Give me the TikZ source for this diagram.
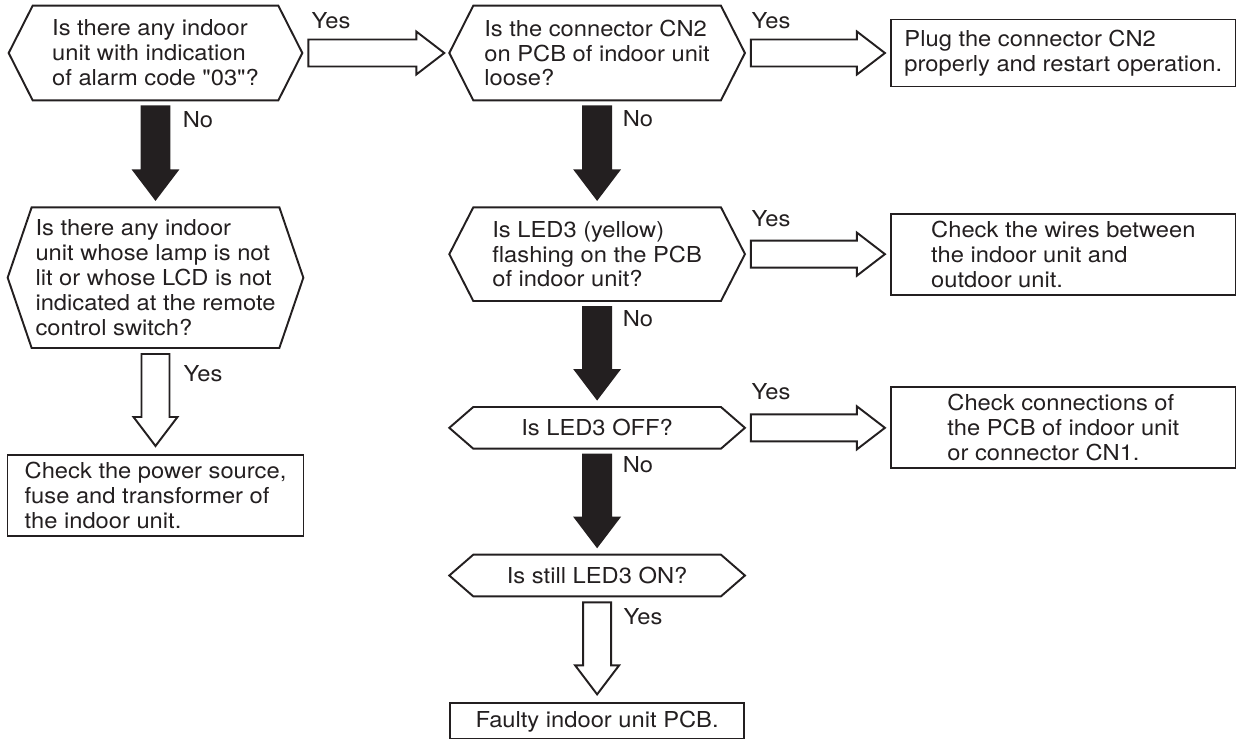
\documentclass[tikz,border=0pt]{standalone}
\usepackage{fontspec}
\setmainfont[FakeStretch=1.08, Ligatures=TeXOff]{TeX Gyre Heros}
\usepackage{tikz}
\usetikzlibrary{positioning,calc}
\definecolor{ink}{HTML}{231F20}

% fat arrows: style, from, to
\newcommand{\vblock}[3]{%
  \draw[#1] ($(#2)+(-14,6)$) -- ($(#3)+(-14,-37)$) -- ($(#3)+(-22,-37)$)
    -- ($(#3)+(0,-8)$) -- ($(#3)+(22,-37)$) -- ($(#3)+(14,-37)$)
    -- ($(#2)+(14,6)$) -- cycle;}
\newcommand{\hblock}[3]{%
  \draw[#1] ($(#2)+(6,-13.5)$) -- ($(#3)+(-33,-13.5)$) -- ($(#3)+(-33,-21.5)$)
    -- ($(#3)+(-5,0)$) -- ($(#3)+(-33,21.5)$) -- ($(#3)+(-33,13.5)$)
    -- ($(#2)+(6,13.5)$) -- cycle;}

\begin{document}
\begin{tikzpicture}[
  x=0.02cm, y=-0.02cm,
  node distance=21.2mm and 33.8mm,
  every node/.style={font=\fontsize{12.5}{14.2}\selectfont, text=ink},
  ask/.style={align=left, inner sep=2pt, minimum width=4.94cm},
  answer/.style={draw=ink, line width=1.1pt, align=left, inner sep=3pt, minimum width=6.9cm},
  edge/.style={draw=ink, line width=1.1pt, line join=miter},
  openarr/.style={draw=ink, fill=white, line width=1.1pt},
  blackarr/.style={draw=ink, fill=ink, line width=1.1pt}
]
\useasboundingbox (0,0) rectangle (1236,738);

\node[ask, minimum width=4.9cm, minimum height=1.88cm] (q1) at (155.5,53) {Is there any indoor\\unit with indication\\of alarm code "03"?};
\node[ask, minimum height=1.88cm, right=39mm of q1] (q2) {Is the connector CN2\\on PCB of indoor unit\\loose?};
\node[answer, minimum height=1.34cm, right=of q2] (b1) {Plug the connector CN2\\properly and restart operation.};
\node[ask, minimum height=1.86cm, below=21.4mm of q2] (q3) {Is LED3 (yellow)\\flashing on the PCB\\of indoor unit?};
\node[answer, minimum height=1.62cm, right=of q3] (b2) {Check the wires between\\the indoor unit and\\outdoor unit.};
\node[ask, minimum height=0.82cm, below=of q3] (q4) {Is LED3 OFF?};
\node[answer, minimum height=1.62cm, right=of q4] (b3) {Check connections of\\the PCB of indoor unit\\or connector CN1.};
\node[ask, minimum height=0.82cm, below=of q4] (q5) {Is still LED3 ON?};
\node[answer, minimum width=5.88cm, minimum height=0.72cm, below=of q5] (b5) {Faulty indoor unit PCB.};
\node[ask, minimum width=4.9cm, minimum height=2.8cm, below=21.4mm of q1] (q6) {Is there any indoor\\unit whose lamp is not\\lit or whose LCD is not\\indicated at the remote\\control switch?};
\node[answer, minimum width=5.92cm, minimum height=1.62cm, below=of q6] (b4) {Check the power source,\\fuse and transformer of\\the indoor unit.};

% hexagon outlines
\foreach \q in {q1,q2,q3,q4,q5,q6}
  \draw[edge] (\q.north west) -- (\q.north east) -- ($(\q.east)+(24,0)$) coordinate (\q-r)
    -- (\q.south east) -- (\q.south west) -- ($(\q.west)+(-24,0)$) coordinate (\q-l) -- cycle;

\hblock{openarr}{q1-r}{q2-l}
\hblock{openarr}{q2-r}{b1.west}
\hblock{openarr}{q3-r}{b2.west}
\hblock{openarr}{q4-r}{b3.west}
\vblock{blackarr}{q1.south}{q6.north}
\vblock{blackarr}{q2.south}{q3.north}
\vblock{blackarr}{q3.south}{q4.north}
\vblock{blackarr}{q4.south}{q5.north}
\vblock{openarr}{q6.south}{b4.north}
\vblock{openarr}{q5.south}{b5.north}

\node (y1) at (331,21) {Yes};
\node (n1) at (198,120) {No};
\node (y2) at (771,21) {Yes};
\node (n2) at (638,119) {No};
\node (y3) at (771,219) {Yes};
\node (n3) at (638,319) {No};
\node (y4) at (771,392) {Yes};
\node (n4) at (638,465) {No};
\node (y6) at (203,374) {Yes};
\node (y5) at (643,617) {Yes};
\end{tikzpicture}
\end{document}
